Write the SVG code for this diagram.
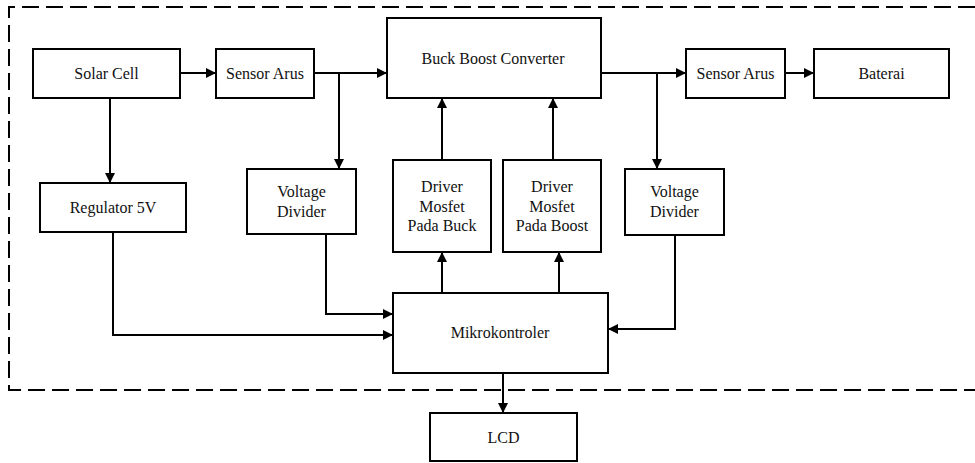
<svg xmlns="http://www.w3.org/2000/svg" width="975" height="463" viewBox="0 0 975 463">
<style>
.box{fill:#fff;stroke:#000;stroke-width:2}
.t{font-family:"Liberation Serif","Times New Roman",serif;font-size:16px;fill:#111;text-anchor:middle}
.c{fill:none;stroke:#000;stroke-width:2}
.dash{fill:none;stroke:#000;stroke-width:2;stroke-dasharray:17 7}
</style>
<defs>
<marker id="ah" markerUnits="userSpaceOnUse" markerWidth="11" markerHeight="11" refX="10" refY="5" orient="auto">
<path d="M0,0 L10,5 L0,10 z" fill="#000"/>
</marker>
</defs>
<rect width="975" height="463" fill="#fff"/>
<path class="dash" d="M975 7 H9 V390 H975"/>
<g id="connectors">
<path class="c" d="M180 73 H216" marker-end="url(#ah)"/>
<path class="c" d="M314 73 H387" marker-end="url(#ah)"/>
<path class="c" d="M339 73 V169" marker-end="url(#ah)"/>
<path class="c" d="M110 98 V183" marker-end="url(#ah)"/>
<path class="c" d="M113 232 V335 H393" marker-end="url(#ah)"/>
<path class="c" d="M326 234 V314 H393" marker-end="url(#ah)"/>
<path class="c" d="M442 293 V252" marker-end="url(#ah)"/>
<path class="c" d="M442 160 V98" marker-end="url(#ah)"/>
<path class="c" d="M559 293 V252" marker-end="url(#ah)"/>
<path class="c" d="M553 160 V98" marker-end="url(#ah)"/>
<path class="c" d="M601 73 H686" marker-end="url(#ah)"/>
<path class="c" d="M657 73 V169" marker-end="url(#ah)"/>
<path class="c" d="M785 73 H814" marker-end="url(#ah)"/>
<path class="c" d="M675 235 V329 H608" marker-end="url(#ah)"/>
<path class="c" d="M503 373 V413" marker-end="url(#ah)"/>
</g>
<g id="solar"><rect class="box" x="33" y="49" width="147" height="49"/><text class="t" x="106.5" y="79">Solar Cell</text></g>
<g id="sensor1"><rect class="box" x="216" y="49" width="98" height="49"/><text class="t" x="265" y="79">Sensor Arus</text></g>
<g id="buckboost"><rect class="box" x="387" y="18" width="214" height="80"/><text class="t" x="493" y="64">Buck Boost Converter</text></g>
<g id="sensor2"><rect class="box" x="686" y="49" width="99" height="49"/><text class="t" x="735.5" y="79">Sensor Arus</text></g>
<g id="baterai"><rect class="box" x="814" y="49" width="135" height="49"/><text class="t" x="881.5" y="79">Baterai</text></g>
<g id="regulator"><rect class="box" x="40" y="183" width="146" height="49"/><text class="t" x="113" y="213">Regulator 5V</text></g>
<g id="vd1"><rect class="box" x="247" y="169" width="109" height="65"/><text class="t" x="301.5" y="197">Voltage</text><text class="t" x="301.5" y="217">Divider</text></g>
<g id="driverbuck"><rect class="box" x="393" y="160" width="98" height="92"/><text class="t" x="442" y="192">Driver</text><text class="t" x="442" y="212">Mosfet</text><text class="t" x="442" y="231">Pada Buck</text></g>
<g id="driverboost"><rect class="box" x="503" y="160" width="98" height="92"/><text class="t" x="552" y="192">Driver</text><text class="t" x="552" y="212">Mosfet</text><text class="t" x="552" y="231">Pada Boost</text></g>
<g id="vd2"><rect class="box" x="625" y="169" width="99" height="66"/><text class="t" x="674.5" y="197">Voltage</text><text class="t" x="674.5" y="217">Divider</text></g>
<g id="mikro"><rect class="box" x="393" y="293" width="215" height="80"/><text class="t" x="500" y="338">Mikrokontroler</text></g>
<g id="lcd"><rect class="box" x="430" y="413" width="147" height="48"/><text class="t" x="503.5" y="443">LCD</text></g>
</svg>
